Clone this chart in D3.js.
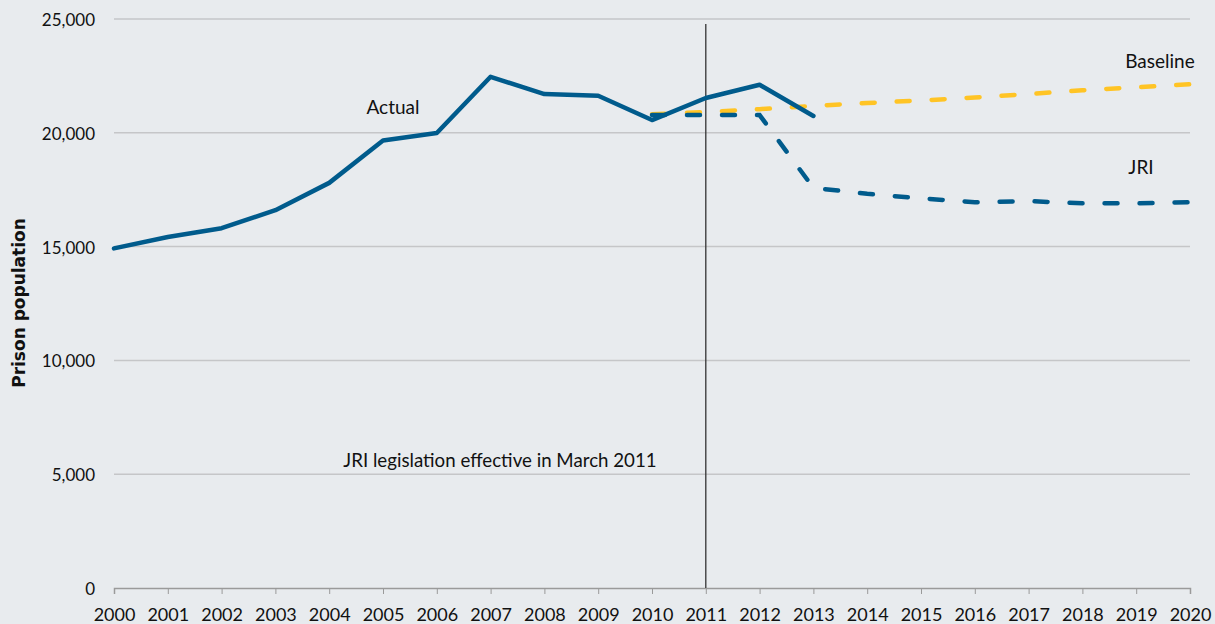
<!DOCTYPE html>
<html><head><meta charset="utf-8">
<script src="https://cdn.jsdelivr.net/npm/d3@7"></script>
<style>
html,body{margin:0;padding:0;background:#e8ebee;}
svg{display:block;font-family:Lato,"Open Sans",sans-serif;}
</style></head><body>
<svg id="c" width="1215" height="624"></svg>
<script>
const years = d3.range(2000, 2021);
const actualYears = [2000,2001,2002,2003,2004,2005,2006,2007,2008,2009,2010,2011,2012,2013];
const actualValues = [14920,15420,15810,16600,17800,19660,19990,22460,21700,21630,20560,21530,22110,20740];
const projYears = [2010,2011,2012,2013,2014,2015,2016,2017,2018,2019,2020];
const baselineValues = [20820,20910,21040,21180,21310,21420,21550,21700,21870,22000,22130];
const jriValues = [20780,20780,20780,17580,17320,17120,16950,17000,16900,16900,16950];
const yTicks = [0,5000,10000,15000,20000,25000];
const labels = {actual:"Actual", baseline:"Baseline", jri:"JRI", note:"JRI legislation effective in March 2011", yTitle:"Prison population"};

const svg = d3.select("#c");
const x = d3.scaleLinear().domain([2000,2020]).range([114,1190]);
const y = d3.scaleLinear().domain([0,25000]).range([588,19]);

// gridlines
svg.append("g").selectAll("line").data(yTicks.filter(d=>d>0)).join("line")
  .attr("x1",x(2000)).attr("x2",x(2020)).attr("y1",d=>y(d)).attr("y2",d=>y(d))
  .attr("stroke","#c5c6c8").attr("stroke-width",1.5);

// y labels
svg.append("g").selectAll("text").data(yTicks).join("text")
  .attr("x",95).attr("y",d=>y(d)+7).attr("text-anchor","end")
  .attr("font-size",17).attr("fill","#111").text(d=>d3.format(",")(d));

// x axis
const xAxis = d3.axisBottom(x).tickValues(years).tickFormat(d3.format("d")).tickSize(6);
const gx = svg.append("g").attr("transform",`translate(0,${y(0)})`).call(xAxis);
gx.select(".domain").attr("stroke","#9a9a9a").attr("stroke-width",1.5);
gx.selectAll(".tick line").attr("stroke","#9a9a9a").attr("stroke-width",1);
gx.selectAll(".tick text").attr("y",33).attr("dy",0).attr("font-size",18).attr("fill","#111")
  .attr("font-family","Lato,'Open Sans',sans-serif");

// vertical line at 2011
svg.append("line").attr("x1",x(2011)).attr("x2",x(2011)).attr("y1",24).attr("y2",y(0))
  .attr("stroke","#333").attr("stroke-width",1.3);

const line = d3.line().x(d=>x(d[0])).y(d=>y(d[1]));

svg.append("path").datum(projYears.map((yr,i)=>[yr,baselineValues[i]]))
  .attr("d",line).attr("fill","none").attr("stroke","#ffc425").attr("stroke-width",4.5)
  .attr("stroke-linecap","round").attr("stroke-dasharray","13 22");

svg.append("path").datum(projYears.map((yr,i)=>[yr,jriValues[i]]))
  .attr("d",line).attr("fill","none").attr("stroke","#005b8c").attr("stroke-width",4.5)
  .attr("stroke-linecap","round").attr("stroke-dasharray","13 22");

svg.append("path").datum(actualYears.map((yr,i)=>[yr,actualValues[i]]))
  .attr("d",line).attr("fill","none").attr("stroke","#005b8c").attr("stroke-width",4.5)
  .attr("stroke-linejoin","round").attr("stroke-linecap","round");

// annotations
const ann = (tx,ty,t,fs) => svg.append("text").attr("x",tx).attr("y",ty).attr("text-anchor","middle")
  .attr("font-size",fs).attr("fill","#111").text(t);
ann(393,114,labels.actual,19);
ann(1160,68,labels.baseline,19);
ann(1141,174,labels.jri,19);
ann(500,467,labels.note,18.7);
svg.append("text").attr("transform","translate(25,303) rotate(-90)").attr("text-anchor","middle")
  .attr("font-family","'DejaVu Sans',sans-serif")
  .attr("font-size",17).attr("font-weight","bold").attr("fill","#111").text(labels.yTitle);
</script>
</body></html>
